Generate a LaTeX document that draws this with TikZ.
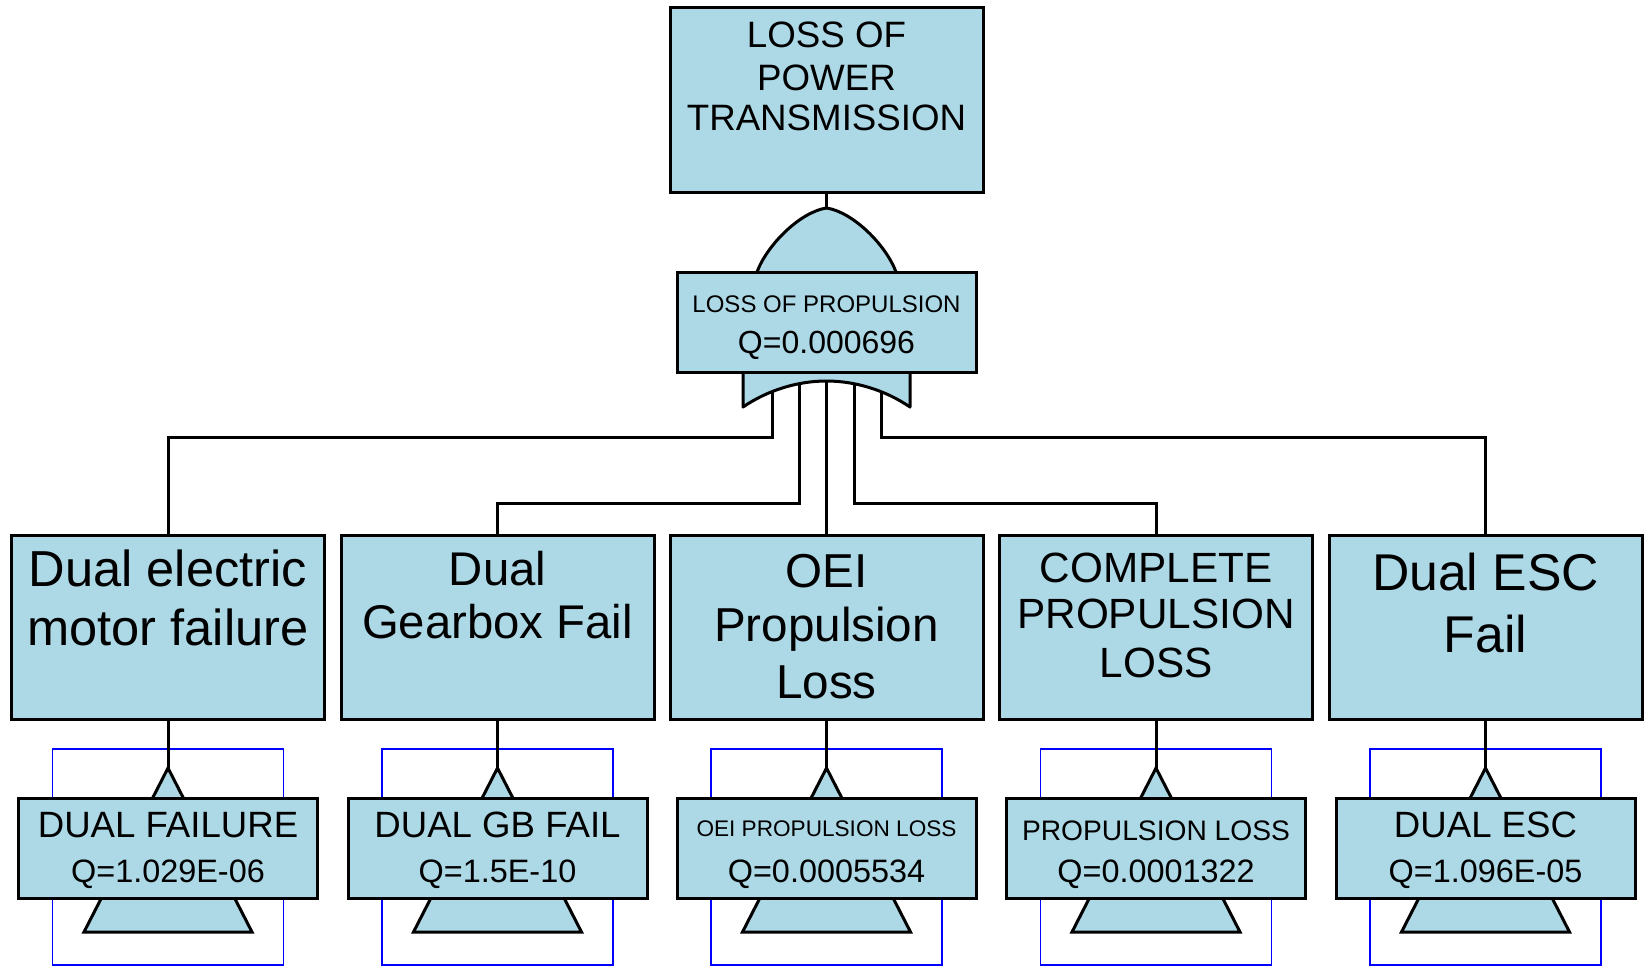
\documentclass[tikz,border=0pt]{standalone}
\usepackage{fontspec}
\setmainfont{Liberation Sans}
\definecolor{fillblue}{RGB}{173,216,230}
\definecolor{frameblue}{RGB}{0,0,255}
\newcommand\fsz[1]{\fontsize{#1}{#1}\selectfont}
\begin{document}
\begin{tikzpicture}[x=1pt,y=-1pt,
  outline/.style={draw=black, line width=3pt, fill=fillblue},
  topbox/.style={outline, rectangle, inner sep=0pt, minimum width=313pt, minimum height=185pt},
  evbox/.style={outline, rectangle, inner sep=0pt, minimum width=313pt, minimum height=184pt},
  gatebox/.style={outline, rectangle, inner sep=0pt, minimum width=299pt, minimum height=100pt},
  basebox/.style={outline, rectangle, inner sep=0pt, minimum width=299pt, minimum height=100pt},
  frame/.style={draw=frameblue, line width=1.5pt, rectangle, inner sep=0pt, minimum width=231pt, minimum height=216pt},
  conn/.style={draw=black, line width=3pt},
  gateshape/.style={draw=black, line width=3pt, fill=fillblue, line join=round},
  txt/.style={anchor=base, inner sep=0pt, text=black}
]
\useasboundingbox (0,0) rectangle (1648,972);

% ---------- blue frames of the transfer events ----------
\node[frame] (f1) at (168,857) {};
\node[frame] (f2) at (497.5,857) {};
\node[frame] (f3) at (826.5,857) {};
\node[frame] (f4) at (1156,857) {};
\node[frame] (f5) at (1485.5,857) {};

% ---------- gate output points ----------
\coordinate (g1) at (772,378);
\coordinate (g2) at (799,378);
\coordinate (g3) at (826.5,378);
\coordinate (g4) at (854,378);
\coordinate (g5) at (881,378);

% ---------- intermediate event boxes ----------
\node[evbox] (e1) at (168,627) {};
\node[evbox] (e2) at (497.5,627) {};
\node[evbox] (e3) at (826.5,627) {};
\node[evbox] (e4) at (1156,627) {};
\node[evbox] (e5) at (1485.5,627) {};

% ---------- connectors from the gate ----------
\draw[conn] (g1) -- ++(0,59) -| (e1.north);
\draw[conn] (g2) -- ++(0,125) -| (e2.north);
\draw[conn] (g3) -- (e3.north);
\draw[conn] (g4) -- ++(0,125) -| (e4.north);
\draw[conn] (g5) -- ++(0,59) -| (e5.north);

% ---------- OR gate ----------
\coordinate (gapex) at (826.5,208);
\path[gateshape] (743,407) -- (743,330) -- (757,272)
  .. controls (767,245) and (800,212) .. (gapex)
  .. controls (853,212) and (886,245) .. (896,272)
  -- (910,330) -- (910,407)
  .. controls (885,390) and (855,381) .. (826.5,381)
  .. controls (798,381) and (768,390) .. (743,407) -- cycle;
\node[gatebox] (gate) at (826.5,322) {};
\node[txt, font=\fsz{24}] (gate1) at (826.5,312) {LOSS OF PROPULSION};
\node[txt, font=\fsz{32}] (gate2) at (826.5,353) {Q=0.000696};

% ---------- top event ----------
\node[topbox] (top) at (826.5,99.5) {};
\draw[conn] (top.south) -- (gapex);
\node[txt, font=\fsz{36.7}] (top1) at (826.5,47) {LOSS OF};
\node[txt, font=\fsz{36.7}] (top2) at (826.5,90) {POWER};
\node[txt, font=\fsz{36.7}] (top3) at (826.5,130) {TRANSMISSION};

% ---------- texts of intermediate events ----------
\node[txt, font=\fsz{50.6}] (e1a) at (168,586) {Dual electric};
\node[txt, font=\fsz{50.6}] (e1b) at (168,645) {motor failure};
\node[txt, font=\fsz{47.3}] (e2a) at (497.5,585) {Dual};
\node[txt, font=\fsz{47.3}] (e2b) at (497.5,638) {Gearbox Fail};
\node[txt, font=\fsz{47.6}] (e3a) at (826.5,587) {OEI};
\node[txt, font=\fsz{47.6}] (e3b) at (826.5,641) {Propulsion};
\node[txt, font=\fsz{47.6}] (e3c) at (826.5,698) {Loss};
\node[txt, font=\fsz{42.3}] (e4a) at (1156,582) {COMPLETE};
\node[txt, font=\fsz{42.3}] (e4b) at (1156,628) {PROPULSION};
\node[txt, font=\fsz{42.3}] (e4c) at (1156,677) {LOSS};
\node[txt, font=\fsz{51.7}] (e5a) at (1485.5,590) {Dual ESC};
\node[txt, font=\fsz{51.7}] (e5b) at (1485.5,652) {Fail};

% ---------- transfer triangles ----------
\foreach \n/\cx in {1/168, 2/497.5, 3/826.5, 4/1156, 5/1485.5}{
  \coordinate (t\n) at (\cx,768);
}
\draw[conn] (e1.south) -- (t1);
\draw[conn] (e2.south) -- (t2);
\draw[conn] (e3.south) -- (t3);
\draw[conn] (e4.south) -- (t4);
\draw[conn] (e5.south) -- (t5);
\foreach \n in {1,...,5}{
  \path[gateshape, line join=miter] (t\n) -- ++(84,164) -- ++(-168,0) -- cycle;
}

% ---------- basic / transfer event boxes ----------
\node[basebox] (b1) at (168,848) {};
\node[basebox] (b2) at (497.5,848) {};
\node[basebox] (b3) at (826.5,848) {};
\node[basebox] (b4) at (1156,848) {};
\node[basebox] (b5) at (1485.5,848) {};

\node[txt, font=\fsz{36.6}] (b1a) at (168,837) {DUAL FAILURE};
\node[txt, font=\fsz{32.4}] (b1b) at (168,882) {Q=1.029E-06};
\node[txt, font=\fsz{36.6}] (b2a) at (497.5,837) {DUAL GB FAIL};
\node[txt, font=\fsz{32.4}] (b2b) at (497.5,882) {Q=1.5E-10};
\node[txt, font=\fsz{22.6}] (b3a) at (826.5,836) {OEI PROPULSION LOSS};
\node[txt, font=\fsz{32.4}] (b3b) at (826.5,882) {Q=0.0005534};
\node[txt, font=\fsz{28.2}] (b4a) at (1156,840) {PROPULSION LOSS};
\node[txt, font=\fsz{32.4}] (b4b) at (1156,882) {Q=0.0001322};
\node[txt, font=\fsz{36.6}] (b5a) at (1485.5,837) {DUAL ESC};
\node[txt, font=\fsz{32.4}] (b5b) at (1485.5,882) {Q=1.096E-05};

\end{tikzpicture}
\end{document}
